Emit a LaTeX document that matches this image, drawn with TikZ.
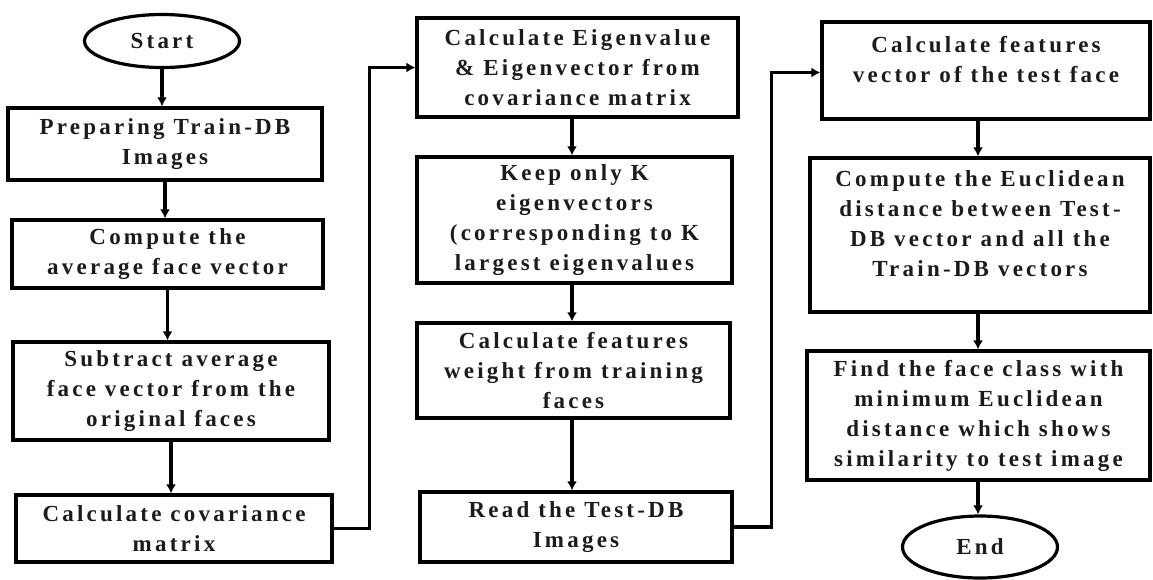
\documentclass[tikz,border=0pt]{standalone}
\usepackage{fontspec}
\newfontfamily\boxfont[LetterSpace=14]{Liberation Serif}
\usetikzlibrary{shapes.geometric,arrows.meta}
\definecolor{txt}{HTML}{1A1A22}
\begin{document}
\begin{tikzpicture}[x=1pt,y=-1pt,
  box/.style={draw, line width=3.2pt, align=center, inner sep=0pt, text=txt,
    font={\boxfont\bfseries\fontsize{23}{30}\selectfont}},
  bx/.style 2 args={box, rectangle, minimum width=#1, minimum height=#2},
  term/.style={box, ellipse, minimum width=155pt, minimum height=#1},
  arr/.style={line width=3.2pt, -{Latex[length=9pt,width=10pt]}}]
\useasboundingbox (0,0) rectangle (1153,579);
\coordinate (c2) at (572,0);
\coordinate (c3) at (978,0);
% column 1
\node[term=53pt] (start) at (162,41) {Start};
\node[bx={314pt}{72pt}] (b1) at (165,144) {Preparing Train-DB\\Images};
\node[bx={311pt}{68pt}] (b2) at (167.5,254) {Compute the\\average face vector};
\node[bx={316pt}{98pt}] (b3) at (171,391) {Subtract average\\face vector from the\\original faces};
\node[bx={316pt}{67pt}] (b4) at (174,528.5) {Calculate covariance\\matrix};
% column 2
\node[bx={321pt}{99pt}] (b5) at (577.5,67.5) {Calculate Eigenvalue\\\& Eigenvector from\\covariance matrix};
\node[bx={315pt}{126pt}] (b6) at (574.5,220) {Keep only K\\eigenvectors\\(corresponding to K\\largest eigenvalues};
\node[bx={313pt}{95pt}] (b7) at (573.5,370.5) {Calculate features\\weight from training\\faces};
\node[bx={312pt}{70pt}] (b8) at (576,527) {Read the Test-DB\\Images};
% column 3
\node[bx={328pt}{97pt}] (b9) at (986,70.5) {Calculate features\\vector of the test face\\[-8pt]~};
\node[bx={340pt}{154pt}] (b10) at (980,235) {Compute the Euclidean\\distance between Test-\\DB vector and all the\\Train-DB vectors\\[-8pt]~};
\node[bx={343pt}{129pt}] (b11) at (978.5,415.5) {Find the face class with\\minimum Euclidean\\distance which shows\\similarity to test image};
\node[term=62pt] (end) at (980,547) {End};
% connectors
\draw[arr] (start.south) -- (b1.north -| start.south);
\draw[arr] (b1.south) -- (b2.north -| b1.south);
\draw[arr] (b2.south) -- (b3.north -| b2.south);
\draw[arr] (b3.south) -- (b4.north -| b3.south);
\draw[arr] (b4.east) -- ++(36,0) |- (b5.west);
\draw[arr] (b5.south -| c2) -- (b6.north -| c2);
\draw[arr] (b6.south -| c2) -- (b7.north -| c2);
\draw[arr] (b7.south -| c2) -- (b8.north -| c2);
\draw[arr] (b8.east) -- ++(38,0) |- ([yshift=-2pt]b9.west);
\draw[arr] (b9.south -| c3) -- (b10.north -| c3);
\draw[arr] (b10.south -| c3) -- (b11.north -| c3);
\draw[arr] (b11.south -| c3) -- (end.north -| c3);
\end{tikzpicture}
\end{document}
